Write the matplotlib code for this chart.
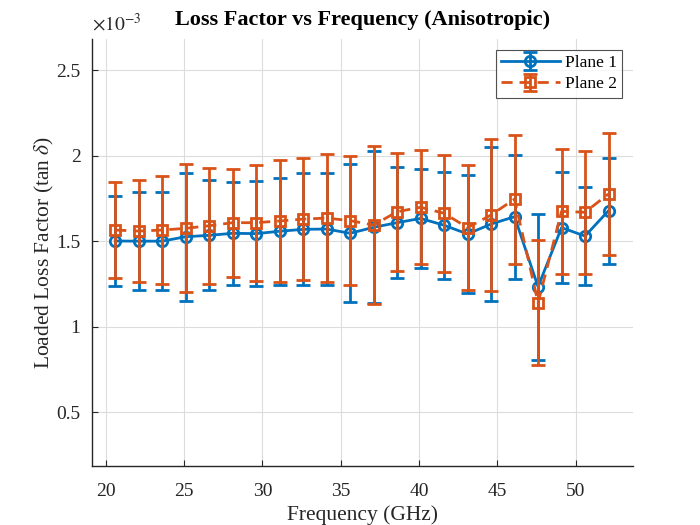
import numpy as np
import matplotlib
matplotlib.use("Agg")
import matplotlib.pyplot as plt
from matplotlib.ticker import FuncFormatter, MultipleLocator

# Data (loss factor values in units of 1e-3)
freq = [20.6, 22.1, 23.6, 25.1, 26.6, 28.1, 29.6, 31.1, 32.6, 34.1, 35.6,
        37.1, 38.6, 40.1, 41.6, 43.1, 44.6, 46.1, 47.6, 49.1, 50.6, 52.1]
plane1 = [1.501, 1.500, 1.500, 1.526, 1.534, 1.546, 1.544, 1.558, 1.569, 1.571, 1.546,
          1.581, 1.608, 1.633, 1.593, 1.542, 1.600, 1.643, 1.234, 1.579, 1.530, 1.678]
plane1_err = [0.264, 0.288, 0.288, 0.373, 0.321, 0.300, 0.306, 0.313, 0.327, 0.330, 0.404,
              0.444, 0.324, 0.289, 0.312, 0.345, 0.450, 0.363, 0.427, 0.324, 0.284, 0.310]
plane2 = [1.565, 1.559, 1.565, 1.575, 1.590, 1.608, 1.608, 1.618, 1.629, 1.635, 1.620,
          1.594, 1.672, 1.698, 1.663, 1.579, 1.653, 1.746, 1.140, 1.674, 1.669, 1.776]
plane2_err = [0.281, 0.297, 0.317, 0.375, 0.338, 0.316, 0.338, 0.355, 0.358, 0.373, 0.376,
              0.460, 0.346, 0.333, 0.343, 0.364, 0.447, 0.377, 0.364, 0.366, 0.358, 0.359]

scale = 1e-3
blue = "#0072BD"
orange = "#D95319"

plt.rcParams['font.family'] = ['Liberation Serif', 'DejaVu Serif']
plt.rcParams['mathtext.fontset'] = 'stix'

fig = plt.figure(figsize=(7, 5.25), dpi=100)
ax = fig.add_axes([0.131, 0.1124, 0.773, 0.8128])

f = np.array(freq)
y1 = np.array(plane1) * scale
e1 = np.array(plane1_err) * scale
y2 = np.array(plane2) * scale
e2 = np.array(plane2_err) * scale

ax.errorbar(f, y1, yerr=e1, color=blue, linestyle='-', linewidth=2,
            marker='o', markersize=7.5, markerfacecolor='none', markeredgewidth=2,
            capsize=5, capthick=2, elinewidth=2, label='Plane 1', zorder=3)
ax.errorbar(f, y2, yerr=e2, color=orange, linestyle=(0, (4, 2.5)), linewidth=2,
            marker='s', markersize=7, markerfacecolor='none', markeredgewidth=2,
            capsize=5, capthick=2, elinewidth=2, label='Plane 2', zorder=4)

ax.set_xlim(19.1, 53.65)
ax.set_ylim(0.186e-3, 2.68e-3)
ax.xaxis.set_major_locator(MultipleLocator(5))
ax.yaxis.set_major_locator(MultipleLocator(0.5e-3))
ax.yaxis.set_major_formatter(FuncFormatter(lambda v, _: f"{v/scale:g}"))

ax.grid(True, color='#dcdcdc', linewidth=0.8)
ax.set_axisbelow(True)
for s in ['top', 'right']:
    ax.spines[s].set_visible(False)
for s in ['left', 'bottom']:
    ax.spines[s].set_color('#262626')
    ax.spines[s].set_linewidth(1.0)
ax.tick_params(direction='in', length=4, width=0.8, labelsize=14, colors='#262626')
ax.tick_params(axis='x', pad=12)
ax.tick_params(axis='y', pad=8)

ax.set_xlabel('Frequency (GHz)', fontsize=15.5, color='#262626', labelpad=4)
ax.set_ylabel(r'Loaded Loss Factor (tan $\delta$)', fontsize=15.5, color='#262626', labelpad=0)
ax.set_title('Loss Factor vs Frequency (Anisotropic)', fontsize=16, fontweight='bold', pad=10)
ax.text(0.0, 1.012, r'$\times10^{-3}$', transform=ax.transAxes, fontsize=14,
        ha='left', va='bottom', color='#262626')

leg = ax.legend(loc='upper right', fontsize=12.5, frameon=True, fancybox=False,
                edgecolor='#262626', borderaxespad=0.6, handlelength=3.4,
                borderpad=0.3, labelspacing=0.3, handletextpad=0.3)
leg.get_frame().set_linewidth(0.8)

fig.savefig('out.png', dpi=100)
